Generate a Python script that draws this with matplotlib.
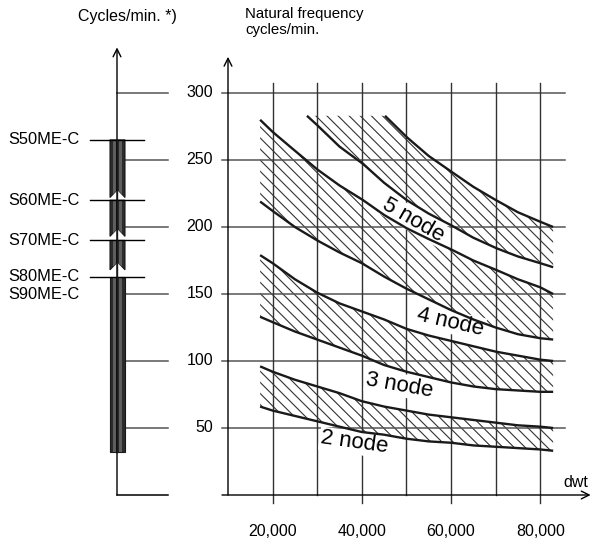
import numpy as np
import matplotlib
matplotlib.use("Agg")
import matplotlib.pyplot as plt
from matplotlib.patches import Polygon, Rectangle

plt.rcParams["font.family"] = ["Liberation Sans", "DejaVu Sans"]
plt.rcParams["hatch.linewidth"] = 0.8

# ---- data ----
freq_ticks = [50, 100, 150, 200, 250, 300]
dwt_ticks = [20000, 40000, 60000, 80000]
dwt_grid = [20000, 30000, 40000, 50000, 60000, 70000, 80000]
dwt_tick_labels = ["20,000", "40,000", "60,000", "80,000"]

# 5 node band (capped at 283 cycles/min)
u5_dwt = [45200, 50100, 55000, 60200, 65000, 70100, 75000, 79950, 82900]
u5_cpm = [283, 267, 253, 241, 230, 220, 211, 204, 200]
l5_dwt = [27700, 30000, 35000, 40300, 45000, 50100, 55000, 60200, 65000, 70300, 75000, 80000, 82900]
l5_cpm = [283, 276, 260, 247, 233, 220, 210, 201, 192, 184, 178, 173, 170]
cap5 = 283

# 4 node band
u4_dwt = [17200, 20000, 23900, 30000, 35000, 40300, 45000, 50100, 55000, 60200, 65000, 70100, 75000, 80000, 82900]
u4_cpm = [280, 271, 260, 243, 231, 220, 209, 199, 191, 183, 175, 168, 161, 155, 150]
l4_dwt = [17200, 20000, 25000, 30000, 35000, 40000, 45000, 50000, 55000, 60000, 65000, 70000, 75000, 80000, 82900]
l4_cpm = [219, 212, 200, 190, 181, 173, 163, 154, 146, 138, 131, 125, 120, 117, 116]

# 3 node band
u3_dwt = [17200, 20000, 25000, 30000, 35000, 40000, 45000, 50000, 55000, 60000, 65000, 70000, 75000, 80000, 82900]
u3_cpm = [179, 173, 161, 151, 143, 137, 131, 124, 119, 115, 111, 107, 104, 101, 100]
l3_dwt = [17200, 20000, 25000, 30000, 35000, 40000, 45000, 50000, 55000, 60000, 65000, 70000, 75000, 80000, 82900]
l3_cpm = [133, 129, 122, 116, 110, 104, 97, 92, 88, 84, 81, 79, 78, 77, 77]

# 2 node band
u2_dwt = [17200, 20000, 25000, 30000, 35000, 40000, 45000, 50000, 55000, 60000, 65000, 70000, 75000, 80000, 82900]
u2_cpm = [96, 92, 86, 81, 76, 70, 66, 63, 60, 58, 56, 54, 52, 51, 50]
l2_dwt = [17200, 20000, 25000, 30000, 35000, 40000, 45000, 50000, 55000, 60000, 65000, 70000, 75000, 80000, 82900]
l2_cpm = [66, 63, 59, 55, 51, 47, 45, 42, 40, 39, 37, 36, 35, 34, 33]

node_labels = ["5 node", "4 node", "3 node", "2 node"]
node_label_dwt = [51600, 59900, 48500, 38300]
node_label_cpm = [205, 129, 82, 39]
node_label_rot = [-30, -13, -10, -8]

# engine speed ranges on the left scale
engine_names = ["S50ME-C", "S60ME-C", "S70ME-C", "S80ME-C"]
engine_top = [265, 220, 190, 163]
engine_bottom = [225, 196, 171, 32]

# ---- layout ----
W, H = 591, 541
fig = plt.figure(figsize=(W / 100, H / 100), dpi=100)
ylim = (-34.33, 369.4)
cpp = 50 / 67.0           # cycles/min per pixel

ax = fig.add_axes([0, 0, 1, 1])
ax.set_xlim(-41118, 91385)
ax.set_ylim(*ylim)
ax.axis("off")
dpp = 10000 / 44.6        # dwt per pixel

axl = fig.add_axes([0, 0, 1, 1], sharey=ax)
axl.set_xlim(0, W)
axl.axis("off")
axl.patch.set_alpha(0)

line_c = "#1a1a1a"
grid_c = "#555555"

# grid
for f in freq_ticks:
    ax.plot([10000 - 6 * dpp, 85500], [f, f], color=grid_c, lw=1.1, zorder=1)
    ax.text(10000 - 15 * dpp, f, str(f), ha="right", va="center", fontsize=11.5)
for d in dwt_grid:
    lo = -8 * cpp if d in dwt_ticks else 0
    ax.plot([d, d], [lo, 307.5], color="#333333", lw=1.0, zorder=1)
for d, lab in zip(dwt_ticks, dwt_tick_labels):
    ax.text(d, -27, lab, ha="center", va="center", fontsize=11.5)

# axes with arrows
ax.annotate("", xy=(10000, 327), xytext=(10000, 0),
            arrowprops=dict(arrowstyle="->", lw=1.0, color="k", mutation_scale=14, shrinkA=0, shrinkB=0))
ax.annotate("", xy=(91300, 0), xytext=(10000 - 6 * dpp, 0),
            arrowprops=dict(arrowstyle="->", lw=1.0, color="k", mutation_scale=14, shrinkA=0, shrinkB=0))
ax.text(88000, 9, "dwt", ha="center", va="center", fontsize=11.5)
ax.text(10000 + 17 * dpp, 364, "Natural frequency\ncycles/min.", ha="left", va="top",
        fontsize=10.8, linespacing=1.15)


def band(up_x, up_y, lo_x, lo_y):
    pts = list(zip(up_x, up_y)) + list(zip(lo_x, lo_y))[::-1]
    ax.add_patch(Polygon(pts, closed=True, facecolor="none", edgecolor="#333333",
                         lw=0, hatch="\\\\\\", zorder=0.5))


band([l5_dwt[0]] + u5_dwt, [cap5] + u5_cpm, l5_dwt, l5_cpm)
band(u4_dwt, u4_cpm, l4_dwt, l4_cpm)
band(u3_dwt, u3_cpm, l3_dwt, l3_cpm)
band(u2_dwt, u2_cpm, l2_dwt, l2_cpm)

for xs, ys in [(u5_dwt, u5_cpm), (l5_dwt, l5_cpm), (u4_dwt, u4_cpm), (l4_dwt, l4_cpm),
               (u3_dwt, u3_cpm), (l3_dwt, l3_cpm), (u2_dwt, u2_cpm), (l2_dwt, l2_cpm)]:
    ax.plot(xs, ys, color=line_c, lw=1.7, zorder=4, solid_capstyle="butt")

for lab, x, y, r in zip(node_labels, node_label_dwt, node_label_cpm, node_label_rot):
    ax.text(x, y, lab, rotation=r, ha="center", va="center", fontsize=16, zorder=3,
            rotation_mode="anchor",
            bbox=dict(boxstyle="square,pad=0.05", fc="white", ec="none"))

# ---- left scale ----
ax0 = 117
axl.annotate("", xy=(ax0, 334), xytext=(ax0, 0),
             arrowprops=dict(arrowstyle="->", lw=1.0, color="k", mutation_scale=14, shrinkA=0, shrinkB=0))
for f in [0] + freq_ticks:
    axl.plot([ax0, 168], [f, f], color=grid_c if f else "k", lw=1.1, zorder=1)
axl.text(127, 357, "Cycles/min. *)", ha="center", va="center", fontsize=11.5)

notch = 4 * cpp
for i, (name, top, bot) in enumerate(zip(engine_names, engine_top, engine_bottom)):
    last = i == len(engine_names) - 1
    if last:
        pts = [(110, top), (125, top), (125, bot), (110, bot)]
    else:
        pts = [(110, top), (125, top), (125, bot - notch), (117.5, bot + notch), (110, bot - notch)]
    seg = Polygon(pts, closed=True, facecolor="#2b2b2b", edgecolor="#1a1a1a", lw=0.8, zorder=2)
    axl.add_patch(seg)
    for sx in (112.5, 118.5):
        stripe = Rectangle((sx, bot - 10), 3.5, top - bot + 20, facecolor="#5e5e5e",
                           edgecolor="none", zorder=2.5)
        axl.add_patch(stripe)
        stripe.set_clip_path(seg)
    axl.plot([90, 144], [top, top], color="k", lw=1.0, zorder=3)
    axl.text(80, top, name, ha="right", va="center", fontsize=11.8)
axl.plot([ax0, ax0], [engine_bottom[-1], engine_top[0]], color="#1a1a1a", lw=1.0, zorder=3)
axl.text(80, engine_top[-1] - 18 * cpp, "S90ME-C", ha="right", va="center", fontsize=11.8)

fig.savefig("out.png", dpi=100)
